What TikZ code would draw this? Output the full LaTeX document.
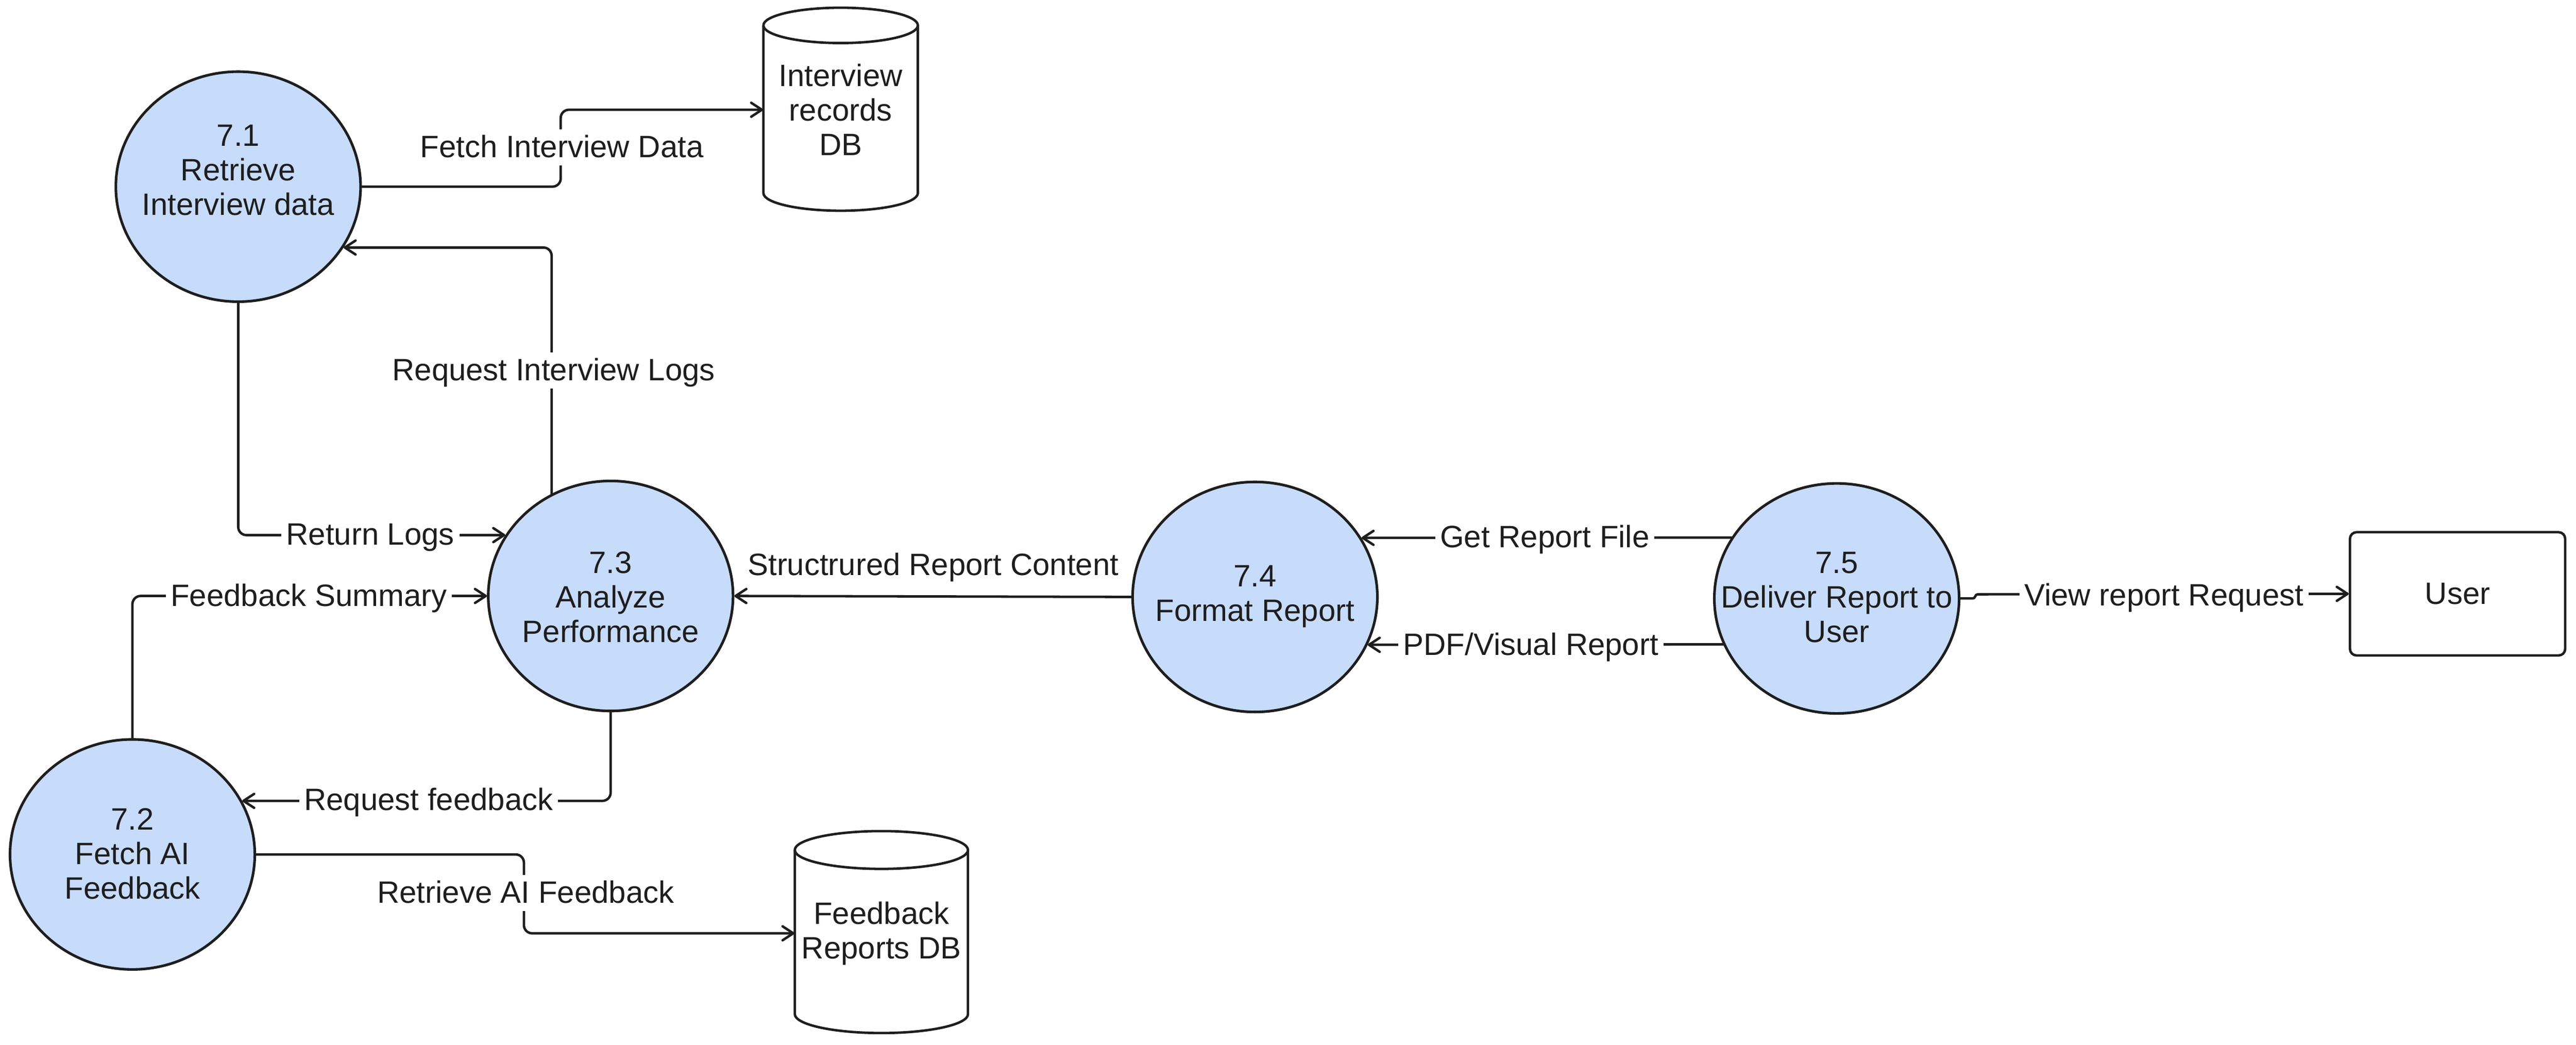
\documentclass[tikz,border=0pt]{standalone}
\usepackage{fontspec}
\setmainfont{Liberation Sans}
\usetikzlibrary{shapes.geometric,arrows.meta,calc}
\definecolor{procfill}{RGB}{199,219,250}
\definecolor{ink}{RGB}{30,30,30}
\begin{document}
\begin{tikzpicture}[x=1pt,y=-1pt,
  every node/.style={font=\fontsize{18.8pt}{21pt}\selectfont, text=ink},
  proc/.style={ellipse, draw=ink, fill=procfill, line width=1.6pt, minimum width=149pt, minimum height=140pt, inner sep=0pt},
  ptxt/.style={align=center, inner sep=0pt},
  dbtxt/.style={align=center, inner sep=0pt},
  lbl/.style={fill=white, inner sep=3pt, text height=14pt, text depth=2pt},
  flow/.style={draw=ink, line width=1.5pt, line cap=round, line join=round, rounded corners=5pt, -{Straight Barb[length=6.5pt,width=8.5pt,round]}},
  dbline/.style={draw=ink, line width=1.5pt, fill=white, line join=round},
  userbox/.style={rectangle, draw=ink, fill=white, line width=1.5pt, rounded corners=4pt, minimum width=131pt, minimum height=75pt, inner sep=0pt},
]
\path[use as bounding box] (0,0) rectangle (1568,635.9);

% data stores (cylinders)
\draw[dbline] (464.7,15.45) -- (464.7,117.5) arc[start angle=180, end angle=0, x radius=47, y radius=10.75] -- (558.7,15.45);
\draw[dbline] (511.7,15.45) ellipse [x radius=47, y radius=10.75];
\node[dbtxt, minimum width=94pt] (db1) at (511.7,66.8) {Interview\\records\\DB};

\draw[dbline] (483.8,517.3) -- (483.8,617.2) arc[start angle=180, end angle=0, x radius=52.7, y radius=11.5] -- (589.2,517.3);
\draw[dbline] (536.5,517.3) ellipse [x radius=52.7, y radius=11.5];
\node[dbtxt, minimum width=105.4pt] (db2) at (536.5,568) {Feedback\\Reports DB};

% processes
\node[proc] (n71) at (145,113.6) {};
\node[ptxt] (t71) at (145,103.4) {7.1\\Retrieve\\Interview data};
\node[proc] (n72) at (80.6,520) {};
\node[ptxt] (t72) at (80.6,519.7) {7.2\\Fetch AI\\Feedback};
\node[proc] (n73) at (371.7,362.7) {};
\node[ptxt] (t73) at (371.7,363.4) {7.3\\Analyze\\Performance};
\node[proc] (n74) at (763.9,363.3) {};
\node[ptxt] (t74) at (763.9,363) {7.4\\Format Report};
\node[proc] (n75) at (1118,364.2) {};
\node[ptxt] (t75) at (1118,363.6) {7.5\\Deliver Report to\\User};

% external entity
\node[userbox] (user) at (1495.9,361.4) {User};

% flows
\draw[flow] (n71.east) -- ++(121,0) |- (db1.west);
\draw[flow] (n73.120) |- (n71.-30);
\draw[flow] (n71.south) |- (n73.150);
\draw[flow] (n72.north) |- (n73.west);
\draw[flow] (n73.south) |- (n72.26.5);
\draw[flow] (n72.east) -- ++(163,0) |- (db2.west);
\draw[flow] (n74.west) -- (n73.east);
\draw[flow] (n75.150) -- (n74.29.2);
\draw[flow] (n75.202.6) -- (n74.-23.1);
\coordinate (vj) at ($(n75.east)+(7,0)$);
\draw[flow, rounded corners=0pt] (n75.east) -- (vj) .. controls ($(vj)+(3,0)$) and ($(vj)+(1,-2.5)$) .. ($(vj)+(4,-2.5)$) -- (user.west);

% flow labels
\node[lbl] (l1) at (342,89.7) {Fetch Interview Data};
\node[lbl] (l2) at (337,225.6) {Request Interview Logs};
\node[lbl] (l3) at (225.4,325.7) {Return Logs};
\node[lbl] (l4) at (188,363) {Feedback Summary};
\node[lbl] (l5) at (260.9,487) {Request feedback};
\node[lbl] (l6) at (320,543.5) {Retrieve AI Feedback};
\node[lbl] (l7) at (568,344) {Structrured Report Content};
\node[lbl] (l8) at (940.3,327.2) {Get Report File};
\node[lbl] (l9) at (931.8,392.6) {PDF/Visual Report};
\node[lbl] (l10) at (1317.2,362.5) {View report Request};
\end{tikzpicture}
\end{document}
